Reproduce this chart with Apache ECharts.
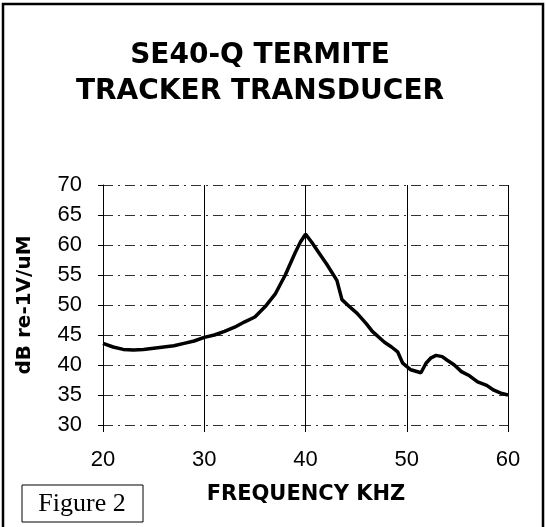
<!DOCTYPE html>
<html>
<head>
<meta charset="utf-8">
<script src="https://cdn.jsdelivr.net/npm/echarts@6/dist/echarts.min.js"></script>
<style>
  html, body { margin: 0; padding: 0; background: #fff; }
  #chart { width: 546px; height: 527px; }
</style>
</head>
<body>
<div id="chart"></div>
<script>
  // frequency in kHz, response in dB re 1V/uM
  var freqKhz = [20, 21, 22, 23, 24, 25, 26, 27, 28, 29,
                 30, 31, 32, 33, 34, 35, 36, 37, 38, 39,
                 39.5, 40, 40.6, 41.2, 42.1, 43.1, 43.6, 44.3, 45.1, 46,
                 46.6, 47.8, 48.5, 49.1, 49.6, 50.4, 51.4, 51.9, 52.4, 52.9,
                 53.5, 54, 54.7, 55.4, 56.2, 57, 57.9, 58.6, 59.3, 60];
  var responseDb = [43.6, 43.0, 42.6, 42.5, 42.6, 42.8, 43.0, 43.2, 43.6, 44.0,
                    44.6, 45.0, 45.6, 46.3, 47.2, 48.0, 49.7, 51.8, 55.0, 58.8,
                    60.5, 61.8, 60.5, 59.0, 56.8, 54.1, 50.9, 49.8, 48.6, 46.9,
                    45.6, 43.8, 43.0, 42.2, 40.3, 39.2, 38.7, 40.3, 41.2, 41.6,
                    41.4, 40.8, 40.0, 38.9, 38.2, 37.2, 36.6, 35.8, 35.3, 35.0];
  var titleLines = ['SE40-Q TERMITE', 'TRACKER TRANSDUCER'];
  var xName = 'FREQUENCY KHZ';
  var yName = 'dB re-1V/uM';
  var figLabel = 'Figure 2';

  var chart = echarts.init(document.getElementById('chart'));
  var points = freqKhz.map(function (f, i) { return [f, responseDb[i]]; });
  var boldFont = '"DejaVu Sans", sans-serif';

  chart.setOption({
    animation: false,
    backgroundColor: '#fff',
    grid: { left: 103, right: 38, top: 185, bottom: 102 },
    xAxis: {
      type: 'value',
      min: 20, max: 60, interval: 10,
      axisLine: { show: false },
      axisTick: { show: true, length: 7, lineStyle: { color: '#000', width: 1 } },
      axisLabel: { color: '#000', fontSize: 22, fontFamily: '"Liberation Sans", Arial', margin: 24 },
      splitLine: { show: true, lineStyle: { color: '#000', width: 1, type: 'solid' } }
    },
    yAxis: {
      type: 'value',
      min: 30, max: 70, interval: 5,
      axisLine: { show: true, lineStyle: { color: '#000', width: 1 } },
      axisTick: { show: true, length: 5, lineStyle: { color: '#000' } },
      axisLabel: { color: '#000', fontSize: 22, fontFamily: '"Liberation Sans", Arial', margin: 21 },
      splitLine: { show: true, lineStyle: { color: '#333', width: 1, type: [10, 5, 2, 5] } }
    },
    series: [{
      type: 'line',
      data: points,
      showSymbol: false,
      smooth: false,
      lineStyle: { color: '#000', width: 3.5 }
    }],
    graphic: [
      // outer frame
      { type: 'rect', shape: { x: 3, y: 4, width: 540, height: 560 },
        style: { fill: 'none', stroke: '#000', lineWidth: 2.5 } },
      { type: 'text', x: 260, y: 56,
        style: { text: titleLines[0], font: 'bold 28px ' + boldFont, fill: '#000',
                 textAlign: 'center', textVerticalAlign: 'middle' } },
      { type: 'text', x: 260, y: 92,
        style: { text: titleLines[1], font: 'bold 28px ' + boldFont, fill: '#000',
                 textAlign: 'center', textVerticalAlign: 'middle' } },
      { type: 'text', x: 25, y: 305, rotation: Math.PI / 2,
        style: { text: yName, font: 'bold 20px ' + boldFont, fill: '#000',
                 textAlign: 'center', textVerticalAlign: 'middle' } },
      { type: 'text', x: 306, y: 495,
        style: { text: xName, font: 'bold 21px ' + boldFont, fill: '#000',
                 textAlign: 'center', textVerticalAlign: 'middle' } },
      { type: 'rect', shape: { x: 22, y: 485, width: 121, height: 37 },
        style: { fill: '#fff', stroke: '#000', lineWidth: 1 } },
      { type: 'text', x: 82, y: 504,
        style: { text: figLabel, font: '26px "Liberation Serif", "Times New Roman", serif', fill: '#000',
                 textAlign: 'center', textVerticalAlign: 'middle' } }
    ]
  });
</script>
</body>
</html>
